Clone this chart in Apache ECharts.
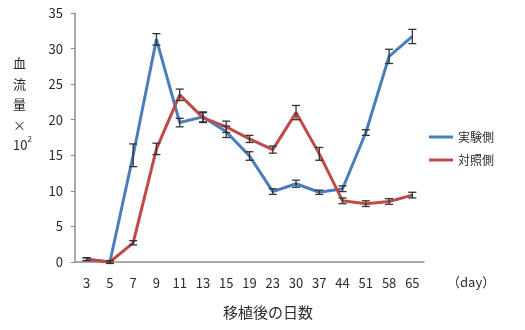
<!DOCTYPE html>
<html>
<head>
<meta charset="utf-8">
<script src="https://cdn.jsdelivr.net/npm/echarts@6/dist/echarts.min.js"></script>
<style>
  html, body { margin: 0; padding: 0; background: #fff; }
  #chart { width: 525px; height: 330px; }
</style>
</head>
<body>
<div id="chart"></div>
<script>
// Days after transplantation
const days = ['3', '5', '7', '9', '11', '13', '15', '19', '23', '30', '37', '44', '51', '58', '65'];
// Blood flow (×10²), experimental side
const expValues = [0.4, 0.0, 15.0, 31.3, 19.6, 20.4, 18.3, 14.9, 9.9, 11.0, 9.8, 10.3, 18.2, 28.9, 31.7];
const expErrors = [0.2, 0.2, 1.6, 0.8, 0.6, 0.7, 0.8, 0.6, 0.4, 0.5, 0.3, 0.4, 0.4, 1.0, 1.0];
// Blood flow (×10²), control side
const ctlValues = [0.4, 0.0, 2.7, 15.9, 23.5, 20.3, 19.0, 17.3, 15.8, 21.0, 15.2, 8.6, 8.2, 8.5, 9.4];
const ctlErrors = [0.2, 0.2, 0.3, 0.8, 0.8, 0.7, 0.8, 0.5, 0.5, 1.0, 0.9, 0.4, 0.4, 0.4, 0.4];
const yTicks = [0, 5, 10, 15, 20, 25, 30, 35];

const seriesNames = ['実験側', '対照側'];
const colors = ['#4a7ebb', '#be4b48'];

function errorData(values, errors) {
  return values.map((v, i) => [i, v - errors[i], v + errors[i]]);
}

function renderErrorBar(params, api) {
  const x = api.value(0);
  const lo = api.coord([x, api.value(1)]);
  const hi = api.coord([x, api.value(2)]);
  const cap = 4;
  const style = { stroke: '#333', lineWidth: 1.3 };
  return {
    type: 'group',
    children: [
      { type: 'line', shape: { x1: hi[0], y1: hi[1], x2: lo[0], y2: lo[1] }, style },
      { type: 'line', shape: { x1: hi[0] - cap, y1: hi[1], x2: hi[0] + cap, y2: hi[1] }, style },
      { type: 'line', shape: { x1: lo[0] - cap, y1: lo[1], x2: lo[0] + cap, y2: lo[1] }, style }
    ]
  };
}

const chart = echarts.init(document.getElementById('chart'));
const font = '"Noto Sans CJK JP", "Noto Sans", sans-serif';

chart.setOption({
  animation: false,
  textStyle: { fontFamily: font },
  grid: { left: 75, right: 101, top: 13, bottom: 68 },
  legend: {
    orient: 'vertical',
    right: 26,
    top: 126,
    itemGap: 11,
    itemWidth: 24,
    itemHeight: 3,
    icon: 'rect',
    textStyle: { fontSize: 12, color: '#2a2a2a', fontFamily: font },
    data: seriesNames
  },
  xAxis: {
    type: 'category',
    data: days,
    boundaryGap: true,
    axisLine: { lineStyle: { color: '#8c8c8c', width: 1.5 } },
    axisTick: { show: false },
    axisLabel: { color: '#2a2a2a', fontSize: 13, margin: 15, interval: 0, fontFamily: font }
  },
  yAxis: {
    type: 'value',
    min: yTicks[0],
    max: yTicks[yTicks.length - 1],
    interval: 5,
    splitLine: { show: false },
    axisLine: { show: true, lineStyle: { color: '#8c8c8c', width: 1.5 } },
    axisTick: { show: true, length: 4, lineStyle: { color: '#8c8c8c' } },
    axisLabel: { color: '#2a2a2a', fontSize: 13, margin: 12, fontFamily: font }
  },
  graphic: [
    {
      type: 'text',
      left: 13,
      top: 53,
      style: {
        text: '血\n流\n量\n×\n{n|10}{s|2}',
        fill: '#2a2a2a',
        font: '13px ' + font,
        lineHeight: 20.5,
        align: 'center',
        rich: {
          n: { fontSize: 13, fill: '#2a2a2a', fontFamily: font },
          s: { fontSize: 8, fill: '#2a2a2a', fontFamily: font, verticalAlign: 'top', padding: [0, 0, 8, 0] }
        }
      }
    },
    {
      type: 'text',
      left: 223,
      top: 305,
      style: { text: '移植後の日数', fill: '#2a2a2a', font: '15px ' + font }
    },
    {
      type: 'text',
      left: 447,
      top: 276,
      style: { text: '（day）', fill: '#2a2a2a', font: '13px ' + font }
    }
  ],
  series: [
    {
      name: seriesNames[0],
      type: 'line',
      data: expValues,
      symbol: 'none',
      lineStyle: { color: colors[0], width: 3 },
      itemStyle: { color: colors[0] },
      z: 2
    },
    {
      name: seriesNames[1],
      type: 'line',
      data: ctlValues,
      symbol: 'none',
      lineStyle: { color: colors[1], width: 3 },
      itemStyle: { color: colors[1] },
      z: 3
    },
    {
      type: 'custom',
      renderItem: renderErrorBar,
      data: errorData(expValues, expErrors),
      encode: { x: 0, y: [1, 2] },
      z: 5
    },
    {
      type: 'custom',
      renderItem: renderErrorBar,
      data: errorData(ctlValues, ctlErrors),
      encode: { x: 0, y: [1, 2] },
      z: 5
    }
  ]
});
</script>
</body>
</html>
